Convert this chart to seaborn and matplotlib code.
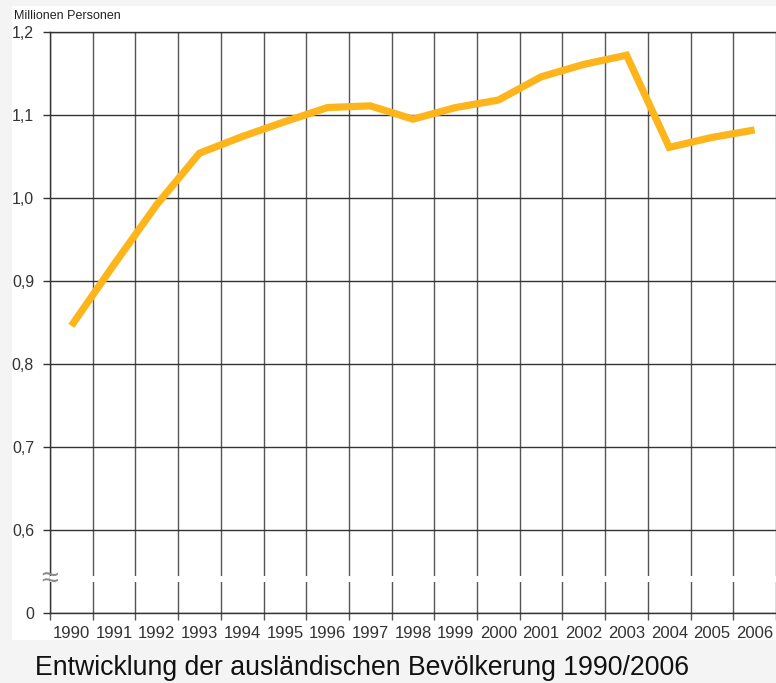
import numpy as np
import matplotlib
matplotlib.use("Agg")
import matplotlib.pyplot as plt
import matplotlib.patches as mpatches
import seaborn as sns

# data
years = [1990, 1991, 1992, 1993, 1994, 1995, 1996, 1997, 1998,
         1999, 2000, 2001, 2002, 2003, 2004, 2005, 2006]
persons_mio = [0.846, 0.920, 0.992, 1.054, 1.074, 1.092, 1.109, 1.111, 1.095,
               1.109, 1.118, 1.146, 1.161, 1.172, 1.061, 1.073, 1.082]
y_ticks = [0.5, 0.6, 0.7, 0.8, 0.9, 1.0, 1.1, 1.2]
y_labels = ["0", "0,6", "0,7", "0,8", "0,9", "1,0", "1,1", "1,2"]

unit_label = "Millionen Personen"
caption = "Entwicklung der ausländischen Bevölkerung 1990/2006"

sns.set_theme(style="white")
narrow = ["Liberation Sans Narrow", "Liberation Sans", "DejaVu Sans"]
plt.rcParams["font.family"] = ["Liberation Sans", "DejaVu Sans"]

W, H = 776, 683
fig = plt.figure(figsize=(W / 100, H / 100), dpi=100)
fig.patch.set_facecolor("#f4f4f4")

# white panel behind the chart
fig.patches.append(mpatches.Rectangle((12 / W, 1 - 640 / H), 1 - 12 / W, (640 - 6) / H,
                                      transform=fig.transFigure, facecolor="white",
                                      edgecolor="none", zorder=-5))

ax = fig.add_axes([50 / W, 1 - 613 / H, 1 - 50 / W, (613 - 32) / H])
ax.set_facecolor("white")

sns.lineplot(x=years, y=persons_mio, ax=ax, color="#fdb51b", linewidth=5.2,
             solid_capstyle="butt", solid_joinstyle="miter", zorder=5)

ax.set_xlim(1989.5, 2006.46)
ax.set_ylim(0.5, 1.2)

# y axis
ax.set_yticks(y_ticks)
ax.set_yticklabels(y_labels, family=narrow, fontsize=11.5, color="#333333")
ax.tick_params(axis="y", which="major", left=True, length=5, width=1, color="#333333", pad=6.5)
ax.yaxis.grid(True, color="#333333", linewidth=1)

# x axis: labels centred on years, gridlines between them
ax.set_xticks(years)
ax.set_xticklabels([str(y) for y in years], family=narrow, fontsize=12, color="#333333")
ax.set_xticks(np.arange(1989.5, 2007, 1.0), minor=True)
ax.tick_params(axis="x", which="major", bottom=False, length=0, pad=9)
ax.tick_params(axis="x", which="minor", bottom=True, length=5, width=1, color="#555555")
ax.xaxis.grid(True, which="minor", color="#555555", linewidth=1)
ax.xaxis.grid(False, which="major")

for side in ["top", "left", "bottom"]:
    ax.spines[side].set_visible(True)
    ax.spines[side].set_color("#333333")
    ax.spines[side].set_linewidth(1)
ax.spines["right"].set_visible(False)

# axis break
ax.axhspan(0.537, 0.544, color="white", zorder=3, linewidth=0)
ax.text(1989.5, 0.5405, "≈", ha="center", va="center", fontsize=22, color="#8a8a8a",
        zorder=6, clip_on=False)

fig.text(14 / W, 1 - 16 / H, unit_label, ha="left", va="center",
         family=narrow, fontsize=9, color="#222222")
fig.text(35 / W, 1 - 668 / H, caption, ha="left", va="center",
         fontsize=19.2, color="#111111")

fig.savefig("out.png", dpi=100, facecolor=fig.get_facecolor())
